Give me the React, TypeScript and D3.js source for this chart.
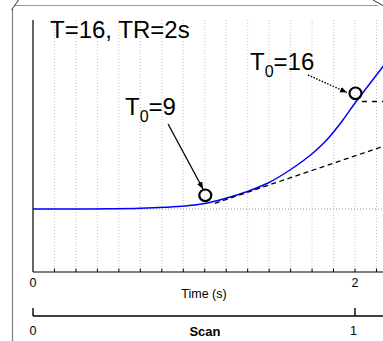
import React from "react";
import * as d3 from "d3";

// ---- data ----
const curveTime = [0, 0.29, 0.48, 0.665, 0.82, 0.944, 1.068, 1.193, 1.327, 1.46, 1.596, 1.739, 1.824, 1.925, 2.0, 2.081, 2.2];
const curveValue = [0, 0, 0.002, 0.007, 0.017, 0.03, 0.055, 0.105, 0.173, 0.26, 0.39, 0.56, 0.69, 0.89, 1.06, 1.23, 1.48];
const tangent9Time = [1.13, 2.2];
const tangent9Value = [0.057, 0.64];
const flat16Time = [2.043, 2.2];
const flat16Value = [1.075, 1.075];
const markerTime = [1.067, 2.0];
const markerValue = [0.137, 1.157];
const sliceIndex = d3.range(1, 18); // slices after 0, grid positions
const nSlices = 16;
const TR = 2;
const timeTickValues = [0, 2];
const timeTickLabels = ["0", "2"];
const scanTickValues = [0, 1];
const scanTickLabels = ["0", "1"];

const W = 383, H = 341;
const FONT = "'Liberation Sans', Arial, Helvetica, sans-serif";

export default function App() {
  const x = d3.scaleLinear().domain([0, 2]).range([33, 355]);
  const y = d3.scaleLinear().domain([-0.63, 1.89]).range([272, 20]);
  const xs = d3.scaleLinear().domain([0, 1]).range([33, 355]);
  const line = d3.line<[number, number]>().x(d => x(d[0])).y(d => y(d[1])).curve(d3.curveMonotoneX);
  const curve = curveTime.map((t, i) => [t, curveValue[i]] as [number, number]);
  const tan9 = tangent9Time.map((t, i) => [t, tangent9Value[i]] as [number, number]);
  const flat16 = flat16Time.map((t, i) => [t, flat16Value[i]] as [number, number]);
  const gridT = sliceIndex.map(k => (k * TR) / (nSlices - 1));
  const yTop = 20, yBot = 272, scanY = 316;

  return (
    <svg width={W} height={H} style={{ position: "absolute", left: 0, top: 0, background: "#fff" }} fontFamily={FONT}>
      <defs>
        <marker id="ah" viewBox="0 0 10 10" refX="10" refY="5" markerWidth="7" markerHeight="7" orient="auto" markerUnits="userSpaceOnUse">
          <path d="M0,1 L10,5 L0,9 z" fill="#000" />
        </marker>
      </defs>
      <rect width={W} height={H} fill="#fff" />
      {/* outer frame pieces */}
      <line x1={12.5} y1={9} x2={12.5} y2={H} stroke="#808080" strokeWidth={1.2} />
      <line x1={14} y1={5.5} x2={378} y2={5.5} stroke="#999" strokeWidth={1.2} />
      <line x1={11.5} y1={10} x2={18.5} y2={0} stroke="#333" strokeWidth={1} />
      <line x1={373} y1={0} x2={383} y2={5.5} stroke="#333" strokeWidth={1} />

      {/* grid */}
      {gridT.map((t, i) => (
        <line key={"g" + i} x1={x(t)} x2={x(t)} y1={yTop} y2={yBot} stroke="#c4c4c4" strokeWidth={1} strokeDasharray="1,2" />
      ))}
      <line x1={x(0)} x2={W} y1={y(0)} y2={y(0)} stroke="#9a9a9a" strokeWidth={1} strokeDasharray="1,2" />

      {/* axes */}
      <line x1={33} x2={33} y1={yTop} y2={yBot} stroke="#000" strokeWidth={1.2} />
      <line x1={33} x2={W} y1={yBot} y2={yBot} stroke="#000" strokeWidth={1.2} />
      {gridT.map((t, i) => (
        <line key={"t" + i} x1={x(t)} x2={x(t)} y1={yBot} y2={yBot - 3.5} stroke="#000" strokeWidth={1} />
      ))}
      {timeTickValues.map((v, i) => (
        <text key={"tl" + i} x={x(v)} y={287} fontSize={12.5} textAnchor="middle">{timeTickLabels[i]}</text>
      ))}
      <text x={204} y={298} fontSize={12.5} textAnchor="middle">Time (s)</text>

      <line x1={33} x2={W} y1={scanY} y2={scanY} stroke="#000" strokeWidth={1.4} />
      {scanTickValues.map((v, i) => (
        <g key={"s" + i}>
          <line x1={xs(v)} x2={xs(v)} y1={scanY} y2={scanY - 8} stroke="#000" strokeWidth={1.4} />
          <text x={xs(v) - (i === 1 ? 1.5 : 0)} y={335} fontSize={12.5} textAnchor="middle">{scanTickLabels[i]}</text>
        </g>
      ))}
      <text x={205} y={335.5} fontSize={13} fontWeight="bold" textAnchor="middle">Scan</text>

      {/* curves */}
      <path d={line(curve) || ""} fill="none" stroke="#0000ff" strokeWidth={1.5} />
      <path d={d3.line<[number, number]>().x(d => x(d[0])).y(d => y(d[1]))(tan9) || ""} fill="none" stroke="#000" strokeWidth={1.3} strokeDasharray="5,3.5" />
      <path d={d3.line<[number, number]>().x(d => x(d[0])).y(d => y(d[1]))(flat16) || ""} fill="none" stroke="#000" strokeWidth={1.3} strokeDasharray="5,5" />

      {markerTime.map((t, i) => (
        <ellipse key={"m" + i} cx={x(t) + 0.5} cy={y(markerValue[i])} rx={6} ry={5.8} fill="none" stroke="#000" strokeWidth={2.2} />
      ))}

      {/* annotations */}
      <text x={50} y={38} fontSize={24}>T=16, TR=2s</text>
      <text x={125} y={115} fontSize={24}>T<tspan fontSize={16} dy={6.5}>0</tspan><tspan dy={-6.5}>=9</tspan></text>
      <text x={250} y={70} fontSize={24}>T<tspan fontSize={16} dy={6.5}>0</tspan><tspan dy={-6.5}>=16</tspan></text>
      <line x1={x(0.839)} y1={y(0.85)} x2={x(1.056)} y2={y(0.2)} stroke="#000" strokeWidth={1.3} markerEnd="url(#ah)" />
      <line x1={x(1.708)} y1={y(1.34)} x2={x(1.95)} y2={y(1.165)} stroke="#000" strokeWidth={1.4} strokeDasharray="1.5,1.5" markerEnd="url(#ah)" />
    </svg>
  );
}
